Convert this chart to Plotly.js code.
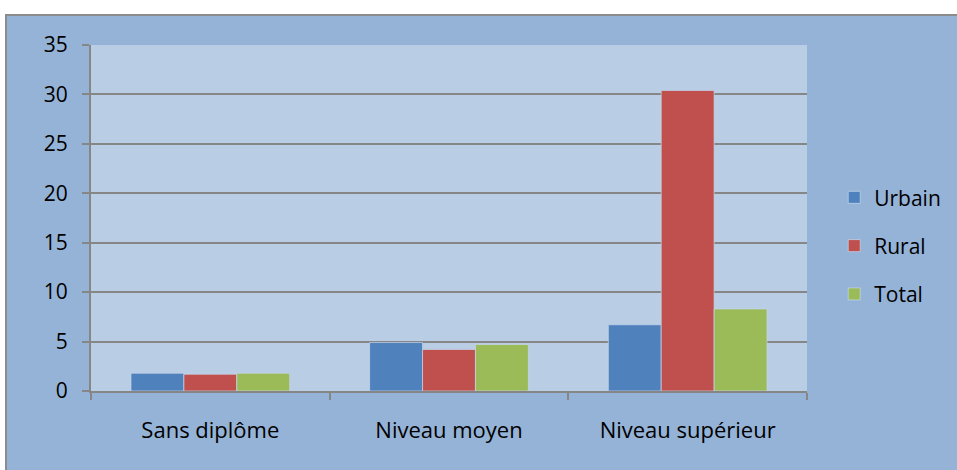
<!DOCTYPE html>
<html><head><meta charset="utf-8">
<script src="https://cdn.plot.ly/plotly-3.0.1.min.js"></script>
<style>
html,body{margin:0;padding:0;background:#fff;width:957px;height:470px;overflow:hidden;}
#wrap{position:absolute;left:5px;top:14px;width:952px;height:456px;border-top:2px solid #8c8c8c;border-left:2px solid #8c8c8c;background:#95B3D7;}
#chart{width:950px;height:454px;}
</style></head>
<body><div id="wrap"><div id="chart"></div></div>
<script>
const categories = ["Sans diplôme", "Niveau moyen", "Niveau supérieur"];
const urbain = [1.8, 4.9, 6.7];
const rural = [1.7, 4.2, 30.4];
const total = [1.8, 4.7, 8.3];
const yTicks = [0, 5, 10, 15, 20, 25, 30, 35];

const font = "'Open Sans', Lato, sans-serif";
function tr(name, y, color, g){
  return {type:'bar', name:name, x:categories, y:y, legendgroup:g,
    marker:{color:color, line:{color:'rgba(200,215,235,0.7)', width:1}}};
}
const data = [tr('Urbain', urbain, '#4F81BD','a'), tr('Rural', rural, '#C0504D','b'), tr('Total', total, '#9BBB59','c')];
const layout = {
  width:950, height:454,
  margin:{l:84, r:150, t:29, b:79, autoexpand:false},
  paper_bgcolor:'#95B3D7', plot_bgcolor:'#B9CDE5',
  barmode:'group', bargap:0.335, bargroupgap:0,
  font:{family:font, size:21, color:'#000'},
  xaxis:{type:'category', tickson:'boundaries', ticks:'outside', ticklen:7, tickcolor:'#868686', tickwidth:2,
    showline:true, linecolor:'#868686', linewidth:2, showgrid:false, ticklabelstandoff:19,
    tickfont:{family:font, size:22}},
  yaxis:{range:[0,35], tickvals:yTicks, ticks:'outside', ticklen:7, tickcolor:'#868686', tickwidth:2,
    showline:true, linecolor:'#868686', linewidth:2, gridcolor:'#868686', gridwidth:2, zeroline:false,
    ticklabelstandoff:10, tickfont:{family:font, size:21}},
  legend:{x:1.038, xanchor:'left', y:0.42, yanchor:'middle', bgcolor:'rgba(0,0,0,0)', tracegroupgap:18,
    font:{family:font, size:21}, traceorder:'grouped', itemwidth:30},
  showlegend:true
};
Plotly.newPlot('chart', data, layout, {displayModeBar:false, staticPlot:true});
</script></body></html>
